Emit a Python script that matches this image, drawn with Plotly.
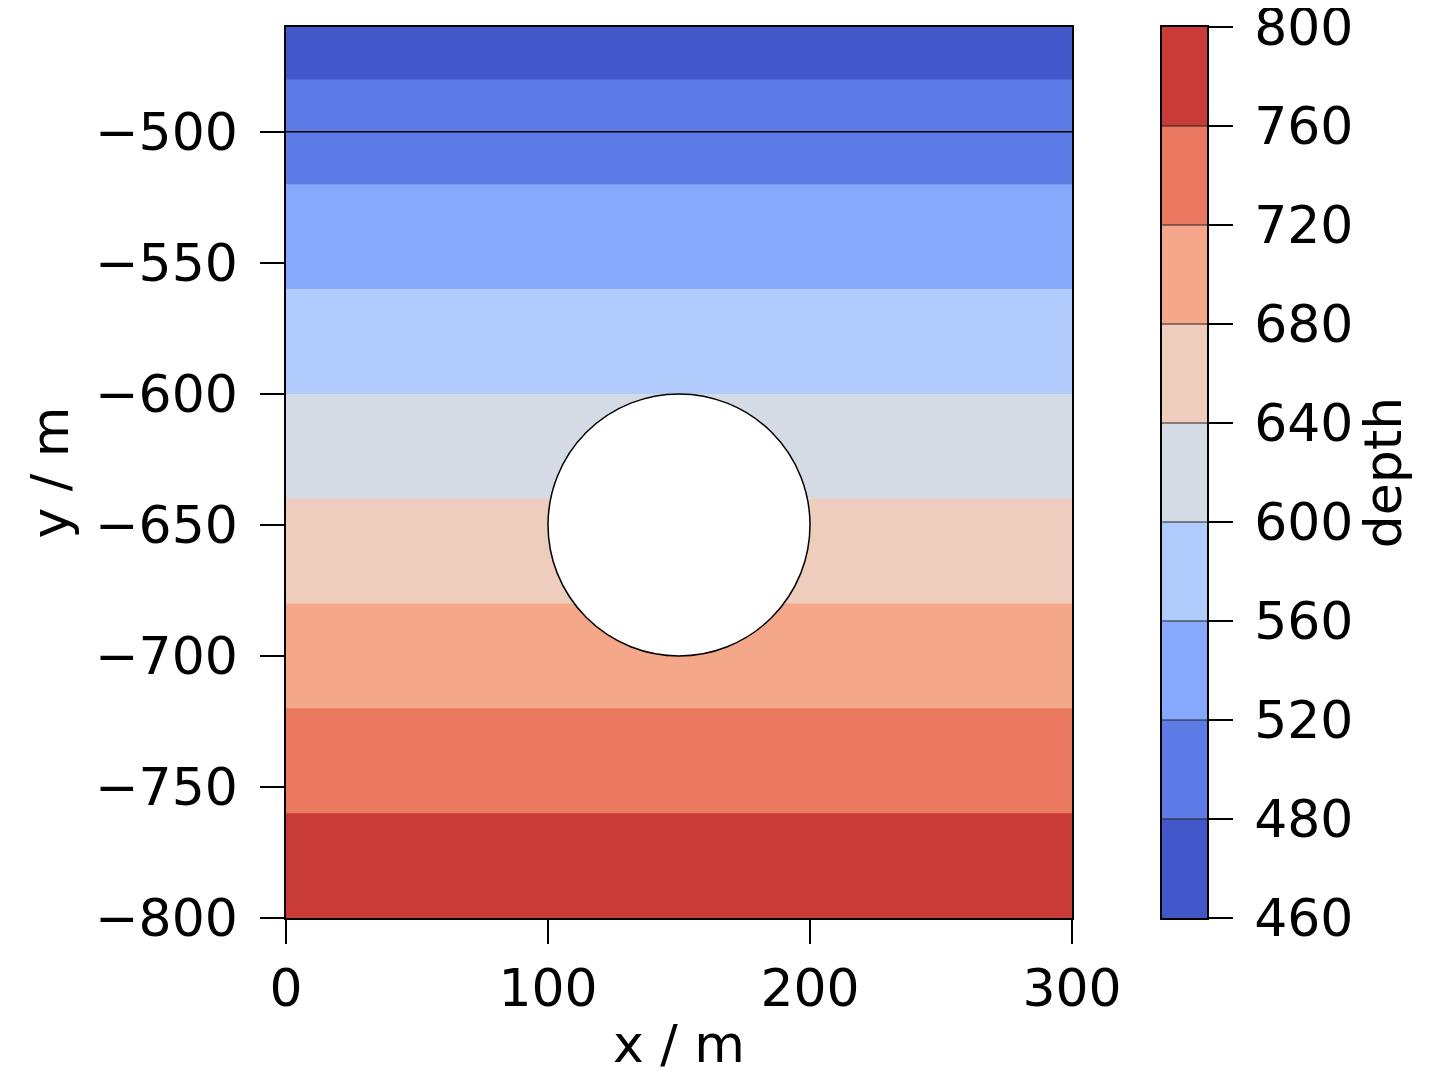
import plotly.graph_objects as go

# depth field: sampled at the two edges of the domain (depth = -y)
x_m = [0, 300]
y_m = [-800, -460]
depth = [[800, 800],
         [460, 460]]

# contour levels and band colours (coolwarm)
levels = [460, 480, 520, 560, 600, 640, 680, 720, 760, 800]
band_colors = ["#4257c9", "#5d7ce6", "#86a9fc", "#b0cbfc", "#d5dbe5",
               "#efcdbc", "#f5a889", "#e97a5f", "#c93b37"]

# obstacle (hole in the mesh) and marker line
hole_center = (150, -650)
hole_radius = 50
line_y = -500

x_ticks = [0, 100, 200, 300]
y_ticks = [-800, -750, -700, -650, -600, -550, -500]

FONT = "DejaVu Sans"
FS = 52

n = len(band_colors)
cscale = []
for i, c in enumerate(band_colors):
    cscale.append([i / (n - 1), c])

fig = go.Figure()

fig.add_trace(go.Contour(
    x=x_m, y=y_m, z=depth,
    autocontour=False,
    contours=dict(start=levels[1], end=levels[-2], size=40, coloring="fill"),
    colorscale=cscale,
    line=dict(width=0),
    showscale=False,
    hoverinfo="skip",
))

# colourbar drawn as its own little heatmap with uniform band heights
fig.add_trace(go.Heatmap(
    x=[0.5], y=[i + 0.5 for i in range(n)],
    z=[[i] for i in range(n)],
    zmin=0, zmax=n - 1,
    colorscale=cscale, showscale=False,
    xaxis="x2", yaxis="y2", hoverinfo="skip",
))
for i in range(1, n):
    fig.add_trace(go.Scatter(
        x=[0, 1], y=[i, i], mode="lines",
        line=dict(color="#222222", width=1),
        xaxis="x2", yaxis="y2", showlegend=False, hoverinfo="skip",
    ))

fig.add_shape(type="line", xref="x", yref="y",
              x0=x_m[0], x1=x_m[1], y0=line_y, y1=line_y,
              line=dict(color="black", width=1.5))
fig.add_shape(type="circle", xref="x", yref="y",
              x0=hole_center[0] - hole_radius, x1=hole_center[0] + hole_radius,
              y0=hole_center[1] - hole_radius, y1=hole_center[1] + hole_radius,
              fillcolor="white", line=dict(color="black", width=1.5))

axis_common = dict(
    showgrid=False, zeroline=False,
    showline=True, linecolor="black", linewidth=1.5, mirror=True,
    ticks="outside", ticklen=24, tickwidth=1.5, tickcolor="black",
    tickfont=dict(family=FONT, size=FS, color="black"),
    ticklabeloverflow="allow",
    automargin=False,
)

fig.update_layout(
    width=1447, height=1080,
    margin=dict(l=278, r=248, t=19, b=170),
    paper_bgcolor="white", plot_bgcolor="white",
    font=dict(family=FONT, size=FS, color="black"),
    showlegend=False,
    xaxis=dict(
        domain=[0, 786 / 921], range=[x_m[0], x_m[1]],
        tickvals=x_ticks,
        title=dict(text="x / m", font=dict(family=FONT, size=FS), standoff=8),
        ticklabelstandoff=0,
        **axis_common,
    ),
    yaxis=dict(
        range=[y_m[0], y_m[1]],
        tickvals=y_ticks,
        ticktext=["\u2212" + str(-v) for v in y_ticks],
        title=dict(text="y / m", font=dict(family=FONT, size=FS), standoff=10),
        ticklabelstandoff=12,
        **axis_common,
    ),
    xaxis2=dict(
        domain=[876 / 921, 1], range=[0, 1], anchor="y2",
        showgrid=False, zeroline=False, showticklabels=False,
        showline=True, linecolor="black", linewidth=1.5, mirror=True,
        ticks="", automargin=False,
    ),
    yaxis2=dict(
        domain=[0, 1], range=[0, n], anchor="x2", side="right",
        tickvals=list(range(n + 1)),
        ticktext=[str(v) for v in levels],
        title=dict(text="depth", font=dict(family=FONT, size=FS), standoff=6),
        ticklabelstandoff=11,
        **axis_common,
    ),
)

fig.write_html("out.html")
